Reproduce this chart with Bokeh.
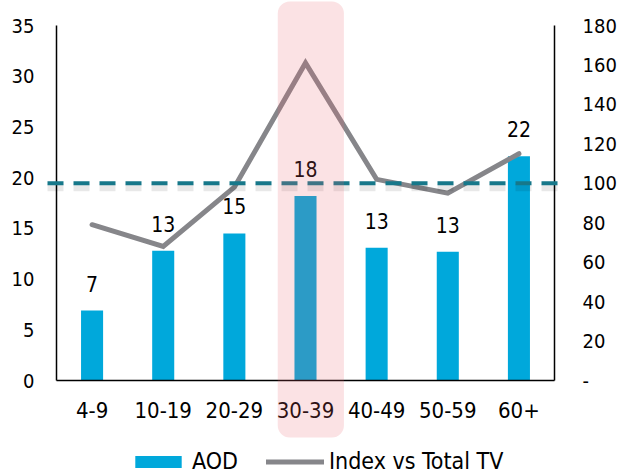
from bokeh.plotting import figure
from bokeh.models import (Range1d, LinearAxis, FixedTicker, BoxAnnotation, Arrow,
                          Legend, LegendItem)
from bokeh.core.properties import value
from bokeh.embed import file_html
from bokeh.resources import INLINE

# ---- data ----
categories = ["4-9", "10-19", "20-29", "30-39", "40-49", "50-59", "60+"]
aod = [6.9, 12.8, 14.5, 18.2, 13.1, 12.7, 22.1]
aod_labels = ["7", "13", "15", "18", "13", "13", "22"]
index_vs_tv = [79, 68, 98, 161, 102, 95, 115]
left_ticks = [0, 5, 10, 15, 20, 25, 30, 35]
right_ticks = [0, 20, 40, 60, 80, 100, 120, 140, 160, 180]
right_tick_labels = ["-", "20", "40", "60", "80", "100", "120", "140", "160", "180"]
baseline_index = 100
highlight_category = "30-39"

# ---- layout (pixels) ----
W, H = 624, 473
PX_L, PX_R, PX_T, PX_B = 56, 554, 25, 380

FONT = "DejaVu Sans Condensed"
TXT = "#000000"
BAR = "#00A8DB"
LINE = "#86868A"
DASH = "#17788A"

xs = list(range(len(categories)))
x_lo, x_hi = xs[0] - 0.5, xs[-1] + 0.5
kx = (PX_R - PX_L) / (x_hi - x_lo)
yl_lo, yl_hi = left_ticks[0], left_ticks[-1]
kyl = (PX_B - PX_T) / (yl_hi - yl_lo)
yr_lo, yr_hi = right_ticks[0], right_ticks[-1]
kyr = (PX_B - PX_T) / (yr_hi - yr_lo)

p = figure(width=W, height=H, output_backend="svg", toolbar_location=None,
           x_range=Range1d(x_lo - PX_L / kx, x_hi + (W - PX_R) / kx),
           y_range=Range1d(yl_lo - (H - PX_B) / kyl, yl_hi + PX_T / kyl),
           min_border=0, x_axis_type=None, y_axis_type=None)
p.extra_y_ranges = {"idx": Range1d(yr_lo - (H - PX_B) / kyr, yr_hi + PX_T / kyr)}
p.grid.visible = False
p.outline_line_color = None
p.background_fill_color = "white"
p.border_fill_color = "white"


def style_axis(ax, size, standoff):
    ax.axis_line_color = "#000000"
    ax.axis_line_width = 1.5
    ax.major_tick_line_color = None
    ax.minor_tick_line_color = None
    ax.major_tick_out = 0
    ax.major_tick_in = 0
    ax.minor_tick_out = 0
    ax.minor_tick_in = 0
    ax.major_label_standoff = standoff
    ax.major_label_text_font = FONT
    ax.major_label_text_font_size = size
    ax.major_label_text_color = TXT


# left axis
lax = LinearAxis(ticker=FixedTicker(ticks=left_ticks), fixed_location=x_lo,
                 bounds=(yl_lo, yl_hi))
style_axis(lax, "20px", 22)
p.add_layout(lax, "left")

# x axis
xax = LinearAxis(ticker=FixedTicker(ticks=xs), fixed_location=yl_lo, bounds=(x_lo, x_hi),
                 major_label_overrides={i: c for i, c in zip(xs, categories)})
style_axis(xax, "22px", 21)
p.add_layout(xax, "below")

# right axis
rax = LinearAxis(y_range_name="idx", ticker=FixedTicker(ticks=right_ticks),
                 fixed_location=x_hi, bounds=(yr_lo, yr_hi),
                 major_label_overrides={t: l for t, l in zip(right_ticks, right_tick_labels)})
style_axis(rax, "20px", 28)
p.add_layout(rax, "right")

# bars
bars = p.vbar(x=xs, top=aod, width=0.31, fill_color=BAR, line_color=None)

# data labels
p.text(x=xs, y=aod, text=aod_labels, text_align="center", text_baseline="alphabetic",
       y_offset=-27, text_font=value(FONT), text_font_size="21px", text_color=TXT)

# index line
line = p.line(x=xs, y=index_vs_tv, y_range_name="idx", line_color=LINE, line_width=5,
              line_join="miter", line_cap="round")

# dashed 100 reference line with soft shadow
x0 = x_lo - 9 / kx
x1 = x_hi + 12 / kx
sh = 4.5 / kyr
shadow = Arrow(end=None, x_start=x0, x_end=x1, y_start=baseline_index - sh,
               y_end=baseline_index - sh, y_range_name="idx", line_color="#000000",
               line_alpha=0.09, line_width=7, line_dash="16 10")
ref = Arrow(end=None, x_start=x0, x_end=x1, y_start=baseline_index, y_end=baseline_index,
            y_range_name="idx", line_color=DASH, line_width=4, line_dash="16 10")
p.add_layout(shadow)
p.add_layout(ref)

# highlight for the 30-39 group
hi = xs[categories.index(highlight_category)]
box = BoxAnnotation(left=hi - 0.39, right=hi + 0.54,
                    bottom=yl_lo - (437 - PX_B) / kyl, top=yl_hi + (PX_T - 1) / kyl,
                    fill_color="#EB6670", fill_alpha=0.19, line_color=None, border_radius=12)
p.add_layout(box)

# legend
legend = Legend(items=[LegendItem(label="AOD", renderers=[bars]),
                       LegendItem(label="Index vs Total TV", renderers=[line])],
                orientation="horizontal", location=(129, -1),
                border_line_color=None, background_fill_alpha=0, padding=0, margin=0,
                spacing=28, label_standoff=5, glyph_width=58, glyph_height=15,
                label_text_font=FONT, label_text_font_size="23px", label_text_color=TXT)
p.add_layout(legend)

open("out.html", "w").write(file_html(p, INLINE))
